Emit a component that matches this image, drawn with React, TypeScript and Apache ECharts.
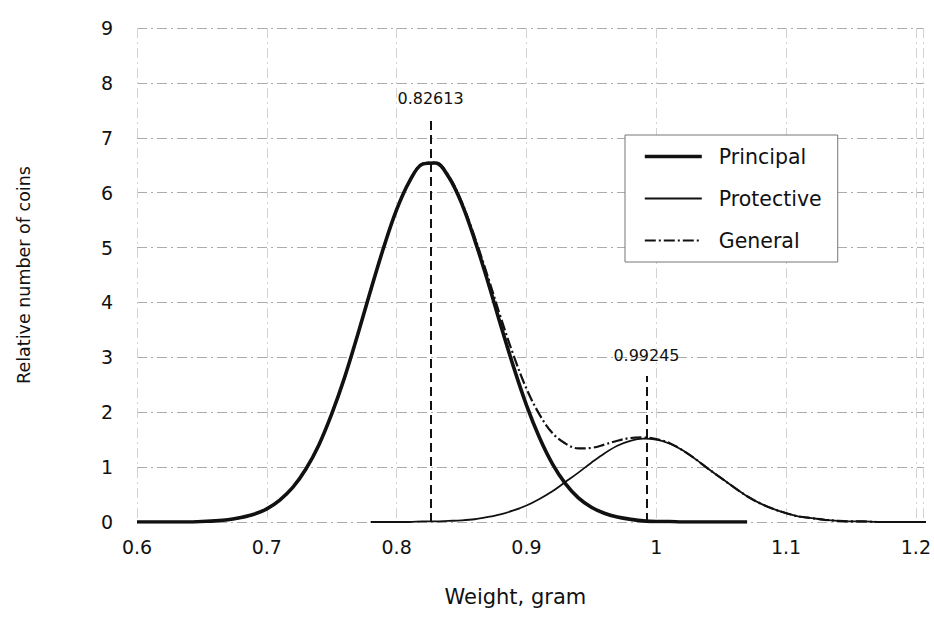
import React, { useEffect, useRef } from "react";
import * as echarts from "echarts";

const weights = [
  0.60, 0.61, 0.62, 0.63, 0.64, 0.65, 0.66, 0.67, 0.68, 0.69,
  0.70, 0.71, 0.72, 0.73, 0.74, 0.75, 0.76, 0.77, 0.78, 0.79,
  0.80, 0.81, 0.82, 0.83, 0.84, 0.85, 0.86, 0.87, 0.88, 0.89,
  0.90, 0.91, 0.92, 0.93, 0.94, 0.95, 0.96, 0.97, 0.98, 0.99,
  1.00, 1.01, 1.02, 1.03, 1.04, 1.05, 1.06, 1.07, 1.08, 1.09,
  1.10, 1.11, 1.12, 1.13, 1.14, 1.15, 1.16, 1.17, 1.18, 1.19,
  1.20, 1.21,
];

const principal = [
  0.00, 0.00, 0.00, 0.00, 0.00, 0.01, 0.02, 0.04, 0.08, 0.14,
  0.24, 0.40, 0.63, 0.96, 1.40, 1.97, 2.64, 3.41, 4.22, 5.00,
  5.69, 6.21, 6.52, 6.54, 6.29, 5.81, 5.15, 4.40, 3.60, 2.83,
  2.13, 1.54, 1.06, 0.70, 0.44, 0.27, 0.16, 0.09, 0.05, 0.02,
  0.01, 0.01, 0.00, 0.00, 0.00, 0.00, 0.00, 0.00, null, null,
  null, null, null, null, null, null, null, null, null, null,
  null, null,
];

const protective = [
  null, null, null, null, null, null, null, null, null, null,
  null, null, null, null, null, null, null, null, 0.00, 0.00,
  0.00, 0.00, 0.01, 0.01, 0.02, 0.03, 0.05, 0.09, 0.14, 0.21,
  0.30, 0.42, 0.56, 0.73, 0.90, 1.08, 1.25, 1.39, 1.48, 1.52,
  1.50, 1.43, 1.31, 1.15, 0.97, 0.80, 0.63, 0.47, 0.34, 0.24,
  0.16, 0.10, 0.07, 0.04, 0.02, 0.01, 0.01, 0.00, 0.00, 0.00,
  0.00, 0.00,
];

const general = [
  0.00, 0.00, 0.00, 0.00, 0.00, 0.01, 0.02, 0.04, 0.08, 0.14,
  0.24, 0.40, 0.63, 0.96, 1.40, 1.97, 2.64, 3.41, 4.22, 5.00,
  5.69, 6.21, 6.53, 6.55, 6.31, 5.84, 5.20, 4.49, 3.74, 3.04,
  2.43, 1.96, 1.62, 1.43, 1.34, 1.35, 1.41, 1.48, 1.53, 1.54,
  1.51, 1.44, 1.31, 1.15, 0.97, 0.80, 0.63, 0.47, 0.34, 0.24,
  0.16, 0.10, 0.07, 0.04, 0.02, 0.01, 0.01, 0.00, 0.00, 0.00,
  0.00, 0.00,
];

const peakWeights = [0.82613, 0.99245];
const peakLineTops = [7.36, 2.66];
const peakLabels = ["0.82613", "0.99245"];

const seriesNames = ["Principal", "Protective", "General"];
const yTicks = [0, 1, 2, 3, 4, 5, 6, 7, 8, 9];

const FONT = "DejaVu Sans";

const styleByName: Record<string, any> = {
  Principal: { color: "#111", width: 3.6, type: "solid" },
  Protective: { color: "#111", width: 1.8, type: "solid" },
  General: { color: "#111", width: 2.2, type: [11, 3, 2, 3] },
};

export default function App() {
  const ref = useRef<HTMLDivElement>(null);

  useEffect(() => {
    if (!ref.current) return;
    const chart = echarts.init(ref.current, null, { renderer: "svg" });

    const toPairs = (arr: (number | null)[]) =>
      weights.map((w, i) => [w, arr[i]]);

    chart.setOption({
      animation: false,
      backgroundColor: "#ffffff",
      textStyle: { fontFamily: FONT },
      grid: { left: 137, right: 0, top: 28, bottom: 106, containLabel: false },
      legend: {
        data: seriesNames.map((n) => ({ name: n, lineStyle: styleByName[n] })),
        orient: "vertical",
        left: 625,
        top: 135,
        backgroundColor: "#ffffff",
        borderColor: "#777777",
        borderWidth: 1,
        padding: [11, 16, 11, 18],
        itemWidth: 57,
        itemHeight: 20,
        itemGap: 21,
        itemStyle: { opacity: 0 },
        textStyle: {
          fontFamily: FONT,
          fontSize: 20.5,
          color: "#111",
          padding: [0, 0, 0, 12],
        },
      },
      xAxis: {
        type: "value",
        min: 0.6,
        max: 1.206,
        interval: 0.1,
        name: "Weight, gram",
        nameLocation: "middle",
        nameGap: 64,
        nameTextStyle: {
          fontFamily: FONT,
          fontSize: 21,
          color: "#111",
          padding: [0, 30, 0, 0],
        },
        axisLine: { show: false },
        axisTick: { show: false },
        axisLabel: {
          fontFamily: FONT,
          fontSize: 19,
          color: "#111",
          margin: 15,
          formatter: (v: number) => {
            const r = Math.round(v * 10) / 10;
            if (Math.abs(r - v) > 1e-6 || r > 1.2 + 1e-6) return "";
            return String(Number(r.toFixed(1)));
          },
        },
        splitLine: {
          show: true,
          lineStyle: { color: "#d2d2d2", width: 1, type: [10, 4, 2, 4] },
        },
      },
      yAxis: {
        type: "value",
        min: yTicks[0],
        max: yTicks[yTicks.length - 1],
        interval: 1,
        name: "Relative number of coins",
        nameLocation: "middle",
        nameGap: 104,
        nameTextStyle: { fontFamily: FONT, fontSize: 17.5, color: "#111" },
        axisLine: { show: false },
        axisTick: { show: false },
        axisLabel: { fontFamily: FONT, fontSize: 19, color: "#111", margin: 24 },
        splitLine: {
          show: true,
          lineStyle: { color: "#ababab", width: 1, type: [10, 4, 2, 4] },
        },
      },
      series: [
        {
          name: "General",
          type: "line",
          data: toPairs(general),
          smooth: 0.35,
          symbol: "none",
          z: 2,
          lineStyle: styleByName.General,
          itemStyle: { color: "#111" },
        },
        {
          name: "Protective",
          type: "line",
          data: toPairs(protective),
          smooth: 0.35,
          symbol: "none",
          z: 3,
          lineStyle: styleByName.Protective,
          itemStyle: { color: "#111" },
        },
        {
          name: "Principal",
          type: "line",
          data: toPairs(principal),
          smooth: 0.35,
          symbol: "none",
          z: 4,
          lineStyle: styleByName.Principal,
          itemStyle: { color: "#111" },
          markLine: {
            silent: true,
            symbol: ["none", "none"],
            animation: false,
            lineStyle: { color: "#111", width: 2, type: [9, 5] },
            label: {
              show: true,
              position: "end",
              distance: 12,
              fontFamily: FONT,
              fontSize: 16,
              color: "#111",
            },
            data: peakWeights.map((w, i) => [
              { coord: [w, 0] },
              { coord: [w, peakLineTops[i]], label: { formatter: peakLabels[i] } },
            ]),
          },
        },
      ],
    });

    return () => chart.dispose();
  }, []);

  return (
    <div
      ref={ref}
      style={{ position: "fixed", left: 0, top: 0, width: 934, height: 628 }}
    />
  );
}
